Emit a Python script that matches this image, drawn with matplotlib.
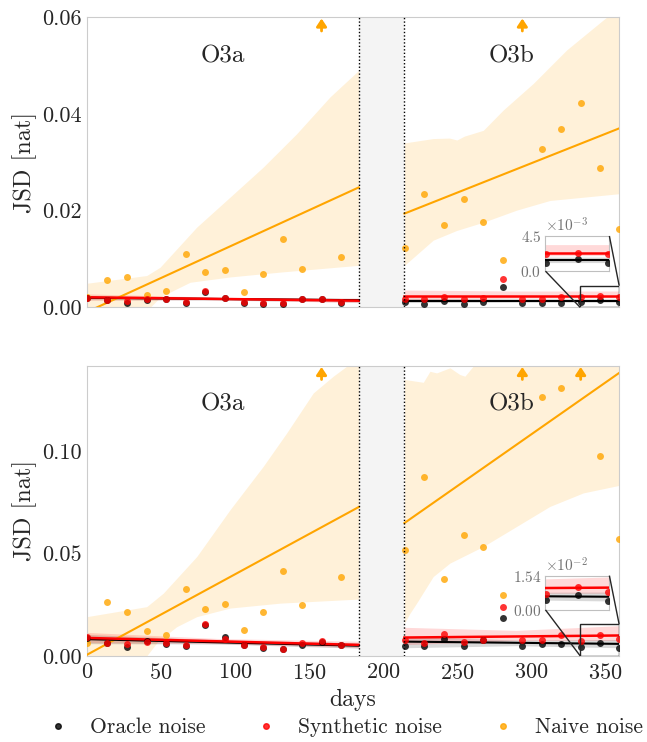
import numpy as np
import matplotlib
matplotlib.use('Agg')
import matplotlib.pyplot as plt
from matplotlib.lines import Line2D
from mpl_toolkits.axes_grid1.inset_locator import mark_inset

plt.rcParams['font.family'] = ['cmr10', 'DejaVu Serif']
plt.rcParams['mathtext.fontset'] = 'cm'
plt.rcParams['axes.formatter.use_mathtext'] = True
plt.rcParams['axes.unicode_minus'] = False
plt.rcParams['axes.edgecolor'] = '0.8'
plt.rcParams['text.color'] = '0.15'
plt.rcParams['axes.labelcolor'] = '0.15'
plt.rcParams['xtick.color'] = '0.15'
plt.rcParams['ytick.color'] = '0.15'
plt.rcParams['xtick.major.size'] = 0
plt.rcParams['ytick.major.size'] = 0

# ---------------- data ----------------
days_a = [0.4, 13.5, 27.2, 40.5, 53.7, 66.9, 80.0, 93.1, 106.2, 119.3, 132.4, 145.5, 158.6, 171.7]
days_b = [214.9, 228.1, 241.4, 254.6, 267.8, 281.0, 294.2, 307.4, 320.5, 333.6, 346.6, 359.2]
o3a_end, o3b_start = 183.7, 214.6
xmax = 359.6

# top panel
naive_top_a = [0.0021, 0.0057, 0.0063, 0.0025, 0.0035, 0.0111, 0.0074, 0.0078, 0.0031, 0.0070, 0.0142, 0.0079, np.nan, 0.0105]
naive_top_b = [0.0123, 0.0235, 0.0171, 0.0225, 0.0176, 0.0099, np.nan, 0.0328, 0.0368, 0.0423, 0.0289, 0.0163]
synth_top_a = [0.0020, 0.0015, 0.0014, 0.0017, 0.0018, 0.0012, 0.0034, 0.0020, 0.0011, 0.0009, 0.0009, 0.0018, 0.0018, 0.0011]
synth_top_b = [0.0018, 0.0017, 0.0021, 0.0017, 0.0019, 0.0059, 0.0017, 0.0018, 0.0021, 0.0022, 0.0023, 0.0022]
oracle_top_a = [0.0019, 0.0015, 0.0010, 0.0016, 0.0017, 0.0010, 0.0032, 0.0019, 0.0010, 0.0008, 0.0008, 0.0017, 0.0017, 0.0010]
oracle_top_b = [0.0012, 0.0008, 0.0014, 0.0008, 0.0012, 0.0043, 0.0009, 0.0009, 0.0010, 0.0011, 0.0015, 0.0011]
off_top = [158.6, 294.2]

# bottom panel
naive_bot_a = [0.0062, 0.0266, 0.0214, 0.0122, 0.0103, 0.0328, 0.0229, 0.0255, 0.0129, 0.0217, 0.0415, 0.0250, np.nan, 0.0388]
naive_bot_b = [0.0516, 0.0875, 0.0377, 0.0589, 0.0532, 0.0297, np.nan, 0.1267, 0.1312, np.nan, 0.0978, 0.0571]
synth_bot_a = [0.0095, 0.0062, 0.0059, 0.0070, 0.0062, 0.0054, 0.0157, 0.0082, 0.0054, 0.0046, 0.0033, 0.0065, 0.0073, 0.0054]
synth_bot_b = [0.0078, 0.0062, 0.0108, 0.0070, 0.0078, 0.0237, 0.0078, 0.0078, 0.0103, 0.0073, 0.0103, 0.0082]
oracle_bot_a = [0.0090, 0.0065, 0.0046, 0.0072, 0.0060, 0.0050, 0.0152, 0.0092, 0.0052, 0.0038, 0.0035, 0.0054, 0.0069, 0.0052]
oracle_bot_b = [0.0049, 0.0049, 0.0082, 0.0049, 0.0078, 0.0185, 0.0049, 0.0059, 0.0057, 0.0044, 0.0065, 0.0038]
off_bot = [158.6, 294.2, 333.6]

# regression lines (end points) per run
fitx_a = [0.0, o3a_end]
fitx_b = [o3b_start, xmax]
naive_fit_top_a = [-0.00095, 0.0248]
naive_fit_top_b = [0.0194, 0.0370]
synth_fit_top_a = [0.0021, 0.0014]
synth_fit_top_b = [0.0023, 0.0023]
oracle_fit_top_a = [0.0020, 0.0015]
oracle_fit_top_b = [0.0014, 0.0014]
naive_fit_bot_a = [0.0005, 0.0728]
naive_fit_bot_b = [0.0650, 0.1384]
synth_fit_bot_a = [0.0088, 0.0054]
synth_fit_bot_b = [0.0090, 0.0100]
oracle_fit_bot_a = [0.0082, 0.0050]
oracle_fit_bot_b = [0.0070, 0.0059]

# confidence bands
nb_top_a_up_x = [0, 40.5, 49.5, 74.3, 96.8, 119.2, 141.8, 164.3, 183.7]
nb_top_a_up = [0.0050, 0.0066, 0.0083, 0.0166, 0.0228, 0.0290, 0.0359, 0.0435, 0.0490]
nb_top_a_lo_x = [0, 25, 42.7, 50, 58.5, 69.8, 96.8, 130.5, 183.7]
nb_top_a_lo = [-0.012, -0.006, 0.0, 0.0022, 0.0035, 0.0052, 0.0063, 0.0073, 0.0087]
nb_top_b_up_x = [214.6, 234, 245, 250, 255, 267.8, 281.3, 301.6, 324.1, 348.8, 359.6]
nb_top_b_up = [0.0340, 0.0349, 0.0350, 0.0346, 0.0354, 0.0366, 0.0408, 0.0463, 0.0532, 0.0594, 0.0620]
nb_top_b_lo_x = [214.6, 234, 249.8, 267.8, 290.3, 312.8, 359.6]
nb_top_b_lo = [0.0087, 0.0139, 0.0159, 0.0176, 0.0201, 0.0221, 0.0235]

nb_bot_a_up_x = [0, 40.5, 51.7, 74.3, 96.8, 119.2, 135, 153, 166.5, 183.7]
nb_bot_a_up = [0.0192, 0.0241, 0.0307, 0.0486, 0.0715, 0.0927, 0.1090, 0.1286, 0.1368, 0.1460]
nb_bot_a_lo_x = [0, 40.5, 48, 60.8, 74.3, 96.8, 130.5, 183.7]
nb_bot_a_lo = [-0.020, 0.0, 0.0070, 0.0143, 0.0192, 0.0234, 0.0258, 0.0278]
nb_bot_b_up_x = [214.6, 227.3, 231.8, 236.3, 245.3, 252, 255.4, 261, 280, 359.6]
nb_bot_b_up = [0.1352, 0.1338, 0.1392, 0.1384, 0.1409, 0.1376, 0.1368, 0.1417, 0.1500, 0.2000]
nb_bot_b_lo_x = [214.6, 218, 222.8, 234, 245.3, 267.8, 290.3, 312.8, 335.3, 359.6]
nb_bot_b_lo = [0.0160, 0.0205, 0.0258, 0.0388, 0.0454, 0.0535, 0.0633, 0.0731, 0.0797, 0.0834]

sb_x_a = [0, 90, o3a_end]
sb_x_b = [o3b_start, 290, xmax]
sb_top_a = ([0.0015, 0.0016, 0.0010], [0.0028, 0.0021, 0.0019])
sb_top_b = ([0.0016, 0.0019, 0.0020], [0.0036, 0.0034, 0.0034])
ob_top_a = ([0.0016, 0.0015, 0.0011], [0.0025, 0.0020, 0.0019])
ob_top_b = ([0.0010, 0.0011, 0.0011], [0.0019, 0.0018, 0.0018])
sb_bot_a = ([0.0065, 0.0060, 0.0040], [0.0115, 0.0085, 0.0072])
sb_bot_b = ([0.0055, 0.0075, 0.0075], [0.0140, 0.0125, 0.0148])
ob_bot_a = ([0.0060, 0.0058, 0.0038], [0.0105, 0.0078, 0.0064])
ob_bot_b = ([0.0040, 0.0050, 0.0040], [0.0095, 0.0078, 0.0080])

labels = ['Oracle noise', 'Synthetic noise', 'Naive noise']
colors = {'oracle': 'black', 'synth': 'red', 'naive': 'orange'}


def fill_band(ax, ux, u, lx, l):
    xs = np.array(sorted(set(ux) | set(lx)))
    ax.fill_between(xs, np.interp(xs, lx, l), np.interp(xs, ux, u),
                    color='orange', alpha=0.15, lw=0)


def draw_red_black(ax, sa, sb, oa, ob, sfa, sfb, ofa, ofb, sba, sbb, oba, obb):
    ax.fill_between(sb_x_a, oba[0], oba[1], color='black', alpha=0.15, lw=0)
    ax.fill_between(sb_x_b, obb[0], obb[1], color='black', alpha=0.15, lw=0)
    ax.fill_between(sb_x_a, sba[0], sba[1], color='red', alpha=0.15, lw=0)
    ax.fill_between(sb_x_b, sbb[0], sbb[1], color='red', alpha=0.15, lw=0)
    ax.plot(fitx_a, ofa, color='black', lw=1.5, zorder=3)
    ax.plot(fitx_b, ofb, color='black', lw=1.5, zorder=3)
    ax.plot(fitx_a, sfa, color='red', lw=1.8, zorder=3)
    ax.plot(fitx_b, sfb, color='red', lw=1.8, zorder=3)
    ax.scatter(days_a + days_b, oa + ob, s=25, color='black', alpha=0.8, lw=0, zorder=4)
    ax.scatter(days_a + days_b, sa + sb, s=25, color='red', alpha=0.8, lw=0, zorder=4)


def draw_panel(ax, na, nb, sa, sb, oa, ob, nfa, nfb, sfa, sfb, ofa, ofb,
               nbands, sba, sbb, oba, obb, off, ymax, yticks, ins_ylim, ins_pos):
    ax.axvspan(o3a_end, o3b_start, color='0.955', lw=0, zorder=0)
    for xv in (o3a_end, o3b_start):
        ax.axvline(xv, color='black', ls=(0, (1, 1.5)), lw=1, zorder=5)
    (uax, ua, lax, la, ubx, ub, lbx, lb) = nbands
    fill_band(ax, uax, ua, lax, la)
    fill_band(ax, ubx, ub, lbx, lb)
    ax.plot(fitx_a, nfa, color='orange', lw=1.5, zorder=3)
    ax.plot(fitx_b, nfb, color='orange', lw=1.5, zorder=3)
    ax.scatter(days_a + days_b, na + nb, s=25, color='orange', alpha=0.8, lw=0, zorder=4)
    draw_red_black(ax, sa, sb, oa, ob, sfa, sfb, ofa, ofb, sba, sbb, oba, obb)
    for d in off:
        ax.annotate('', xy=(d, 0.995), xytext=(d, 0.952), xycoords=('data', 'axes fraction'),
                    arrowprops=dict(arrowstyle='-|>,head_width=0.3,head_length=0.45',
                                    color='orange', lw=2, shrinkA=0, shrinkB=0,
                                    mutation_scale=10))
    ax.text(92, 0.866, 'O3a', transform=ax.get_xaxis_transform(), ha='center', va='center', fontsize=18)
    ax.text(287, 0.866, 'O3b', transform=ax.get_xaxis_transform(), ha='center', va='center', fontsize=18)
    ax.set_xlim(0, xmax)
    ax.set_ylim(0, ymax)
    ax.set_yticks(yticks)
    ax.yaxis.set_major_formatter(matplotlib.ticker.FormatStrFormatter('%.2f'))
    ax.set_ylabel('JSD [nat]', fontsize=17.5, labelpad=4)
    ax.tick_params(labelsize=16)
    ax.tick_params(axis='x', pad=5)

    axins = ax.inset_axes(ins_pos)
    axins.set_facecolor('white')
    draw_red_black(axins, sa, sb, oa, ob, sfa, sfb, ofa, ofb, sba, sbb, oba, obb)
    axins.set_xlim(333.3, xmax)
    axins.set_ylim(*ins_ylim)
    axins.set_xticks([])
    axins.set_yticks(list(ins_ylim))
    axins.ticklabel_format(axis='y', style='sci', scilimits=(0, 0), useMathText=True)
    axins.tick_params(labelsize=11, colors='0.45', pad=3)
    axins.yaxis.get_offset_text().set_fontsize(11)
    axins.yaxis.get_offset_text().set_color('0.45')
    for sp in axins.spines.values():
        sp.set_color('0.75')
    mark_inset(ax, axins, loc1=1, loc2=3, fc='none', ec='0.15', lw=1, zorder=6)


fig, (ax1, ax2) = plt.subplots(2, 1, figsize=(6.47, 7.42), dpi=100, sharex=True)
fig.subplots_adjust(left=0.134, right=0.957, top=0.977, bottom=0.116, hspace=0.2)

draw_panel(ax1, naive_top_a, naive_top_b, synth_top_a, synth_top_b, oracle_top_a, oracle_top_b,
           naive_fit_top_a, naive_fit_top_b, synth_fit_top_a, synth_fit_top_b,
           oracle_fit_top_a, oracle_fit_top_b,
           (nb_top_a_up_x, nb_top_a_up, nb_top_a_lo_x, nb_top_a_lo,
            nb_top_b_up_x, nb_top_b_up, nb_top_b_lo_x, nb_top_b_lo),
           sb_top_a, sb_top_b, ob_top_a, ob_top_b, off_top,
           0.06, [0.0, 0.02, 0.04, 0.06], (0.0, 0.0045), [0.8616, 0.125, 0.12, 0.121])
draw_panel(ax2, naive_bot_a, naive_bot_b, synth_bot_a, synth_bot_b, oracle_bot_a, oracle_bot_b,
           naive_fit_bot_a, naive_fit_bot_b, synth_fit_bot_a, synth_fit_bot_b,
           oracle_fit_bot_a, oracle_fit_bot_b,
           (nb_bot_a_up_x, nb_bot_a_up, nb_bot_a_lo_x, nb_bot_a_lo,
            nb_bot_b_up_x, nb_bot_b_up, nb_bot_b_lo_x, nb_bot_b_lo),
           sb_bot_a, sb_bot_b, ob_bot_a, ob_bot_b, off_bot,
           0.142, [0.0, 0.05, 0.10], (0.0, 0.0154), [0.8616, 0.1586, 0.12, 0.118])
ax2.set_xticks([0, 50, 100, 150, 200, 250, 300, 350])
ax2.set_xlabel('days', fontsize=17, labelpad=4)
ax1.tick_params(labelbottom=False)

handles = [Line2D([], [], marker='o', ls='none', ms=4, color=colors[k], alpha=0.8)
           for k in ('oracle', 'synth', 'naive')]
fig.legend(handles, labels, loc='lower center', ncol=3, frameon=False, fontsize=15.5,
           bbox_to_anchor=(0.525, -0.02), handlelength=2, handletextpad=0.5, columnspacing=1.8)

fig.savefig('out.png', dpi=100, facecolor='white')
